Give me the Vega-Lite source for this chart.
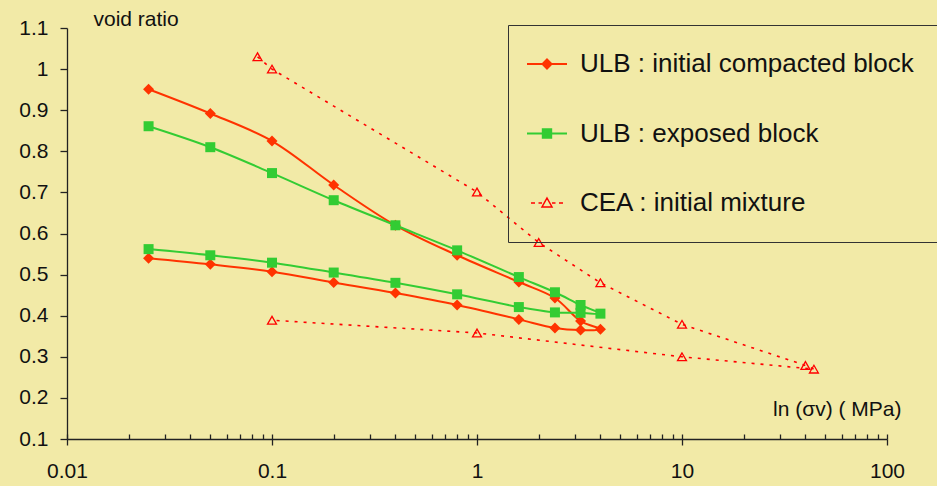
{
  "$schema": "https://vega.github.io/schema/vega-lite/v6.json",
  "autosize": {"type": "none"},
  "width": 820,
  "height": 411,
  "padding": {"left": 67, "top": 28, "right": 50, "bottom": 47},
  "background": "#F2EAA7",
  "config": {
    "view": {"stroke": null},
    "font": "Liberation Sans",
    "axis": {"grid": false, "domainColor": "#222", "tickColor": "#222", "labelColor": "#111", "titleColor": "#111", "labelFont": "Liberation Sans", "titleFont": "Liberation Sans", "labelFontSize": 21, "titleFontSize": 21, "titleFontWeight": "normal", "domainWidth": 1.3, "tickWidth": 1.3}
  },
  "data": {
    "values": [
      {"series": "ULB : initial compacted block", "seq": 1, "stress": 0.025, "e": 0.951},
      {"series": "ULB : initial compacted block", "seq": 2, "stress": 0.05, "e": 0.892},
      {"series": "ULB : initial compacted block", "seq": 3, "stress": 0.1, "e": 0.825},
      {"series": "ULB : initial compacted block", "seq": 4, "stress": 0.2, "e": 0.718},
      {"series": "ULB : initial compacted block", "seq": 5, "stress": 0.4, "e": 0.62},
      {"series": "ULB : initial compacted block", "seq": 6, "stress": 0.8, "e": 0.547},
      {"series": "ULB : initial compacted block", "seq": 7, "stress": 1.6, "e": 0.482},
      {"series": "ULB : initial compacted block", "seq": 8, "stress": 2.4, "e": 0.443},
      {"series": "ULB : initial compacted block", "seq": 9, "stress": 3.2, "e": 0.387},
      {"series": "ULB : initial compacted block", "seq": 10, "stress": 4, "e": 0.367},
      {"series": "ULB : initial compacted block", "seq": 11, "stress": 3.2, "e": 0.365},
      {"series": "ULB : initial compacted block", "seq": 12, "stress": 2.4, "e": 0.37},
      {"series": "ULB : initial compacted block", "seq": 13, "stress": 1.6, "e": 0.391},
      {"series": "ULB : initial compacted block", "seq": 14, "stress": 0.8, "e": 0.426},
      {"series": "ULB : initial compacted block", "seq": 15, "stress": 0.4, "e": 0.455},
      {"series": "ULB : initial compacted block", "seq": 16, "stress": 0.2, "e": 0.481},
      {"series": "ULB : initial compacted block", "seq": 17, "stress": 0.1, "e": 0.507},
      {"series": "ULB : initial compacted block", "seq": 18, "stress": 0.05, "e": 0.525},
      {"series": "ULB : initial compacted block", "seq": 19, "stress": 0.025, "e": 0.54},
      {"series": "ULB : exposed block", "seq": 1, "stress": 0.025, "e": 0.861},
      {"series": "ULB : exposed block", "seq": 2, "stress": 0.05, "e": 0.81},
      {"series": "ULB : exposed block", "seq": 3, "stress": 0.1, "e": 0.747},
      {"series": "ULB : exposed block", "seq": 4, "stress": 0.2, "e": 0.681},
      {"series": "ULB : exposed block", "seq": 5, "stress": 0.4, "e": 0.62},
      {"series": "ULB : exposed block", "seq": 6, "stress": 0.8, "e": 0.559},
      {"series": "ULB : exposed block", "seq": 7, "stress": 1.6, "e": 0.494},
      {"series": "ULB : exposed block", "seq": 8, "stress": 2.4, "e": 0.457},
      {"series": "ULB : exposed block", "seq": 9, "stress": 3.2, "e": 0.426},
      {"series": "ULB : exposed block", "seq": 10, "stress": 4, "e": 0.405},
      {"series": "ULB : exposed block", "seq": 11, "stress": 3.2, "e": 0.407},
      {"series": "ULB : exposed block", "seq": 12, "stress": 2.4, "e": 0.408},
      {"series": "ULB : exposed block", "seq": 13, "stress": 1.6, "e": 0.421},
      {"series": "ULB : exposed block", "seq": 14, "stress": 0.8, "e": 0.452},
      {"series": "ULB : exposed block", "seq": 15, "stress": 0.4, "e": 0.48},
      {"series": "ULB : exposed block", "seq": 16, "stress": 0.2, "e": 0.505},
      {"series": "ULB : exposed block", "seq": 17, "stress": 0.1, "e": 0.529},
      {"series": "ULB : exposed block", "seq": 18, "stress": 0.05, "e": 0.547},
      {"series": "ULB : exposed block", "seq": 19, "stress": 0.025, "e": 0.562},
      {"series": "CEA : initial mixture", "seq": 1, "stress": 0.085, "e": 1.03},
      {"series": "CEA : initial mixture", "seq": 2, "stress": 0.1, "e": 1.0},
      {"series": "CEA : initial mixture", "seq": 3, "stress": 1, "e": 0.701},
      {"series": "CEA : initial mixture", "seq": 4, "stress": 2, "e": 0.578},
      {"series": "CEA : initial mixture", "seq": 5, "stress": 4, "e": 0.48},
      {"series": "CEA : initial mixture", "seq": 6, "stress": 10, "e": 0.379},
      {"series": "CEA : initial mixture", "seq": 7, "stress": 40, "e": 0.279},
      {"series": "CEA : initial mixture", "seq": 8, "stress": 44, "e": 0.27},
      {"series": "CEA : initial mixture", "seq": 9, "stress": 10, "e": 0.3},
      {"series": "CEA : initial mixture", "seq": 10, "stress": 1, "e": 0.358},
      {"series": "CEA : initial mixture", "seq": 11, "stress": 0.1, "e": 0.389}
    ]
  },
  "resolve": {"axis": {"x": "independent"}},
  "layer": [
    {
      "transform": [{"filter": "datum.series !== 'CEA : initial mixture'"}],
      "mark": {"type": "line", "interpolate": "catmull-rom", "strokeWidth": 2},
      "encoding": {
        "x": {"field": "stress", "type": "quantitative",
          "scale": {"type": "log", "domain": [0.01, 100], "nice": false},
          "axis": {"orient": "bottom", "values": [0.01, 0.1, 1, 10, 100], "format": "~g", "tickSize": 6, "labelPadding": 15, "labelFlush": false,
            "title": "ln (σv) ( MPa)", "titleAnchor": "end", "titleAlign": "right", "titleBaseline": "alphabetic", "titleX": 834, "titleY": -24}},
        "y": {"field": "e", "type": "quantitative",
          "scale": {"domain": [0.1, 1.1], "nice": false, "zero": false},
          "axis": {"values": [0.1, 0.2, 0.3, 0.4, 0.5, 0.6, 0.7, 0.8, 0.9, 1, 1.1], "format": "~g", "tickSize": 7, "labelPadding": 12,
            "title": "void ratio", "titleAngle": 0, "titleAlign": "left", "titleBaseline": "alphabetic", "titleX": 26, "titleY": -3}},
        "color": {"field": "series", "type": "nominal",
          "scale": {"domain": ["ULB : initial compacted block", "ULB : exposed block", "CEA : initial mixture"], "range": ["#FF3300", "#33CC33", "#FF0000"]},
          "legend": {
            "title": null, "orient": "none", "legendX": 441, "legendY": -3,
            "padding": 26, "strokeColor": "#333", "rowPadding": 43.5,
            "labelFont": "Liberation Sans", "labelFontSize": 26, "labelColor": "#111", "labelLimit": 0, "labelOffset": 20,
            "symbolSize": 400, "symbolOffset": 0,
            "encode": {
              "symbols": {
                "update": {
                  "shape": {"signal": "datum.value === 'ULB : initial compacted block' ? 'M-2,0L2,0M0,-0.45L0.45,0L0,0.45L-0.45,0Z' : datum.value === 'ULB : exposed block' ? 'M-2,0L2,0M-0.42,-0.42L0.42,-0.42L0.42,0.42L-0.42,0.42Z' : 'M-1.6,0L-1.2,0M-0.85,0L-0.5,0M0.5,0L0.85,0M1.2,0L1.6,0M0,-0.5L0.5,0.4L-0.5,0.4Z'"},
                  "fill": {"signal": "datum.value === 'ULB : initial compacted block' ? '#FF3300' : datum.value === 'ULB : exposed block' ? '#33CC33' : 'transparent'"},
                  "strokeWidth": {"signal": "datum.value === 'CEA : initial mixture' ? 1.5 : 2"}
                }
              }
            }
          }
        },
        "order": {"field": "seq", "type": "quantitative"}
      }
    },
    {
      "transform": [{"filter": "datum.series === 'CEA : initial mixture'"}],
      "mark": {"type": "line", "strokeWidth": 1.6, "strokeDash": [3, 6]},
      "encoding": {
        "x": {"field": "stress", "type": "quantitative",
          "axis": {"orient": "bottom", "values": [0.01, 0.02, 0.03, 0.04, 0.05, 0.06, 0.07, 0.08, 0.09, 0.1, 0.2, 0.3, 0.4, 0.5, 0.6, 0.7, 0.8, 0.9, 1, 2, 3, 4, 5, 6, 7, 8, 9, 10, 20, 30, 40, 50, 60, 70, 80, 90, 100],
            "labels": false, "domain": false, "tickSize": -5, "title": null}},
        "y": {"field": "e", "type": "quantitative"},
        "color": {"field": "series", "type": "nominal"},
        "order": {"field": "seq", "type": "quantitative"}
      }
    },
    {
      "transform": [{"filter": "datum.series === 'ULB : initial compacted block'"}],
      "mark": {"type": "point", "shape": "diamond", "filled": true, "color": "#FF3300", "size": 121, "opacity": 1},
      "encoding": {
        "x": {"field": "stress", "type": "quantitative", "axis": null},
        "y": {"field": "e", "type": "quantitative"}
      }
    },
    {
      "transform": [{"filter": "datum.series === 'ULB : exposed block'"}],
      "mark": {"type": "point", "shape": "square", "filled": true, "color": "#33CC33", "size": 100, "opacity": 1},
      "encoding": {
        "x": {"field": "stress", "type": "quantitative", "axis": null},
        "y": {"field": "e", "type": "quantitative"}
      }
    },
    {
      "transform": [{"filter": "datum.series === 'CEA : initial mixture'"}],
      "mark": {"type": "point", "shape": "triangle-up", "filled": false, "color": "#FF0000", "size": 80, "strokeWidth": 1.3, "opacity": 1},
      "encoding": {
        "x": {"field": "stress", "type": "quantitative", "axis": null},
        "y": {"field": "e", "type": "quantitative"}
      }
    }
  ]
}
